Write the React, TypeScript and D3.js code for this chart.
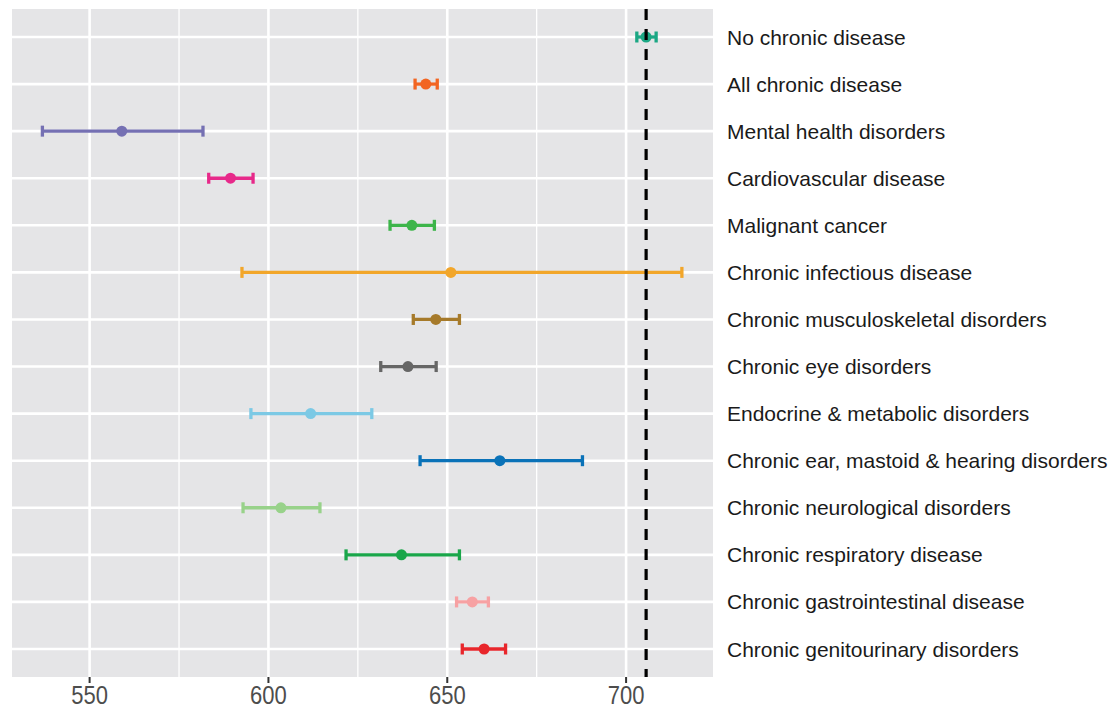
import React from "react";
import * as d3 from "d3";

const categories = [
  "No chronic disease",
  "All chronic disease",
  "Mental health disorders",
  "Cardiovascular disease",
  "Malignant cancer",
  "Chronic infectious disease",
  "Chronic musculoskeletal disorders",
  "Chronic eye disorders",
  "Endocrine & metabolic disorders",
  "Chronic ear, mastoid & hearing disorders",
  "Chronic neurological disorders",
  "Chronic respiratory disease",
  "Chronic gastrointestinal disease",
  "Chronic genitourinary disorders",
];
const means = [705.6, 644.0, 559.0, 589.4, 640.1, 651.0, 646.8, 639.0, 611.8, 664.7, 603.5, 637.2, 657.0, 660.3];
const lower = [703.0, 641.0, 536.8, 583.3, 634.0, 592.6, 640.5, 631.4, 595.1, 642.4, 592.9, 621.7, 652.6, 654.2];
const upper = [708.4, 647.2, 581.7, 595.7, 646.4, 715.6, 653.4, 646.9, 628.9, 687.8, 614.4, 653.4, 661.5, 666.3];
const colors = [
  "#1BA784", "#F26522", "#7570B3", "#E7298A", "#3DB54A", "#F2A62A", "#A67A2A",
  "#666666", "#7CC9E5", "#0A72B8", "#98D28A", "#1AA64A", "#F7A1A3", "#E8262B",
];
const majorTicks = [550, 600, 650, 700];
const minorTicks = [575, 625, 675];
const refValue = 705.6;

export default function App() {
  const W = 1112, H = 710;
  const left = 12, right = 713, top = 9, bottom = 677;
  const x = d3.scaleLinear().domain([528.3, 724.3]).range([left, right]);
  const y = d3.scalePoint<string>().domain(categories).range([37, 649]);
  const cap = 5.5;

  return (
    <svg
      width={W}
      height={H}
      style={{ position: "absolute", left: 0, top: 0, display: "block", background: "#fff" }}
      fontFamily="'Liberation Sans', Arial, sans-serif"
    >
      <rect x={left} y={top} width={right - left} height={bottom - top} fill="#E5E5E7" />
      {minorTicks.map((t) => (
        <line key={"mn" + t} x1={x(t)} x2={x(t)} y1={top} y2={bottom} stroke="#fff" strokeWidth={1.3} />
      ))}
      {majorTicks.map((t) => (
        <line key={"mj" + t} x1={x(t)} x2={x(t)} y1={top} y2={bottom} stroke="#fff" strokeWidth={2.6} />
      ))}
      {categories.map((c) => (
        <line key={"h" + c} x1={left} x2={right} y1={y(c)} y2={y(c)} stroke="#fff" strokeWidth={2.6} />
      ))}
      {categories.map((c, i) => {
        const yy = y(c) as number;
        const col = colors[i];
        return (
          <g key={"e" + c}>
            <line x1={x(lower[i])} x2={x(upper[i])} y1={yy} y2={yy} stroke={col} strokeWidth={3.3} />
            <line x1={x(lower[i])} x2={x(lower[i])} y1={yy - cap} y2={yy + cap} stroke={col} strokeWidth={3.3} />
            <line x1={x(upper[i])} x2={x(upper[i])} y1={yy - cap} y2={yy + cap} stroke={col} strokeWidth={3.3} />
            <circle cx={x(means[i])} cy={yy} r={5.5} fill={col} />
          </g>
        );
      })}
      <line
        x1={x(refValue)}
        x2={x(refValue)}
        y1={top}
        y2={bottom}
        stroke="#000"
        strokeWidth={3.2}
        strokeDasharray="11,9"
      />
      {majorTicks.map((t) => (
        <g key={"t" + t}>
          <line x1={x(t)} x2={x(t)} y1={bottom} y2={bottom + 6} stroke="#333" strokeWidth={2} />
          <text
            transform={`translate(${x(t)},${bottom + 27}) scale(0.88,1)`}
            textAnchor="middle"
            fontSize={25}
            fill="#4D4D4D"
          >
            {t}
          </text>
        </g>
      ))}
      {categories.map((c) => (
        <text key={"l" + c} x={727} y={(y(c) as number) + 7.5} fontSize={21} fill="#1a1a1a">
          {c}
        </text>
      ))}
    </svg>
  );
}
